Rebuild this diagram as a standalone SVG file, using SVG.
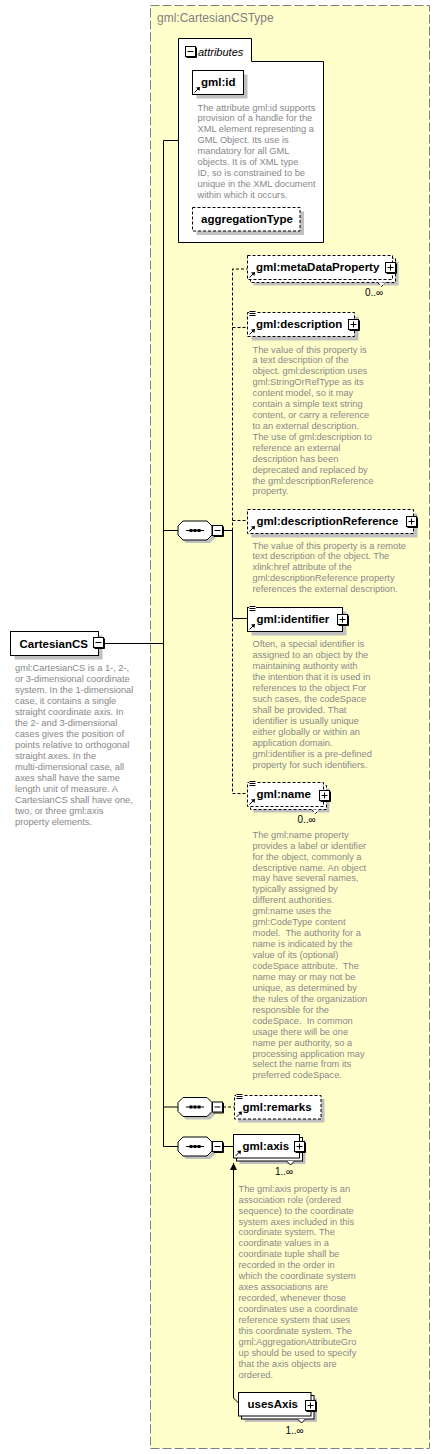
<svg xmlns="http://www.w3.org/2000/svg" xmlns:xlink="http://www.w3.org/1999/xlink" width="440" height="1454" viewBox="0 0 440 1454">
<style>
.box{fill:#fff;stroke:#000;stroke-width:1}
.dbox{fill:#fff;stroke:#000;stroke-width:1;stroke-dasharray:3,2}
.sh{fill:#c0c0c0}
.lbl{font-family:"Liberation Sans",Arial,sans-serif;font-weight:bold;font-size:11.5px;fill:#000}
.doc{font-family:"Liberation Sans",Arial,sans-serif;font-size:9.3px;fill:#888}
.occ{font-family:"Liberation Sans",Arial,sans-serif;font-size:10px;fill:#000}
.conn{stroke:#000;fill:none;stroke-width:1}
.dconn{stroke:#000;fill:none;stroke-width:1;stroke-dasharray:3,2}
</style>
<defs>
<g id="plus"><rect x="0" y="0" width="10" height="10" fill="#fff" stroke="#000"/><path d="M11,1V11H1" stroke="#000" fill="none"/><path d="M2,5H8M5,2V8" stroke="#000" fill="none"/></g>
<g id="minus"><rect x="0" y="0" width="10" height="10" fill="#fff" stroke="#000"/><path d="M11,1V11H1" stroke="#000" fill="none"/><path d="M2,5H8" stroke="#000" fill="none"/></g>
<g id="ref"><path d="M0,0L4,-4" stroke="#000" fill="none"/><path d="M5.5,-5.5L1.5,-5L5,-1.5Z" fill="#000"/></g>
<g id="simple"><rect x="-0.5" y="-1" width="7" height="6" fill="#fff"/><path d="M0,-0.5H6M0,1.5H6M0,3.5H6" stroke="#000" fill="none"/></g>
<g id="seq">
<polygon points="8,-6.5 32,-6.5 37,-1.5 37,7.5 32,12.5 8,12.5 3,7.5 3,-1.5" class="sh"/>
<polygon points="5,-9.5 29,-9.5 34,-4.5 34,4.5 29,9.5 5,9.5 0,4.5 0,-4.5" fill="#fff" stroke="#000"/>
<path d="M8,0H26" stroke="#000"/>
<rect x="11.5" y="-1.5" width="3" height="3" fill="#000"/><rect x="15.5" y="-1.5" width="3" height="3" fill="#000"/><rect x="19.5" y="-1.5" width="3" height="3" fill="#000"/>
<use xlink:href="#minus" x="34.5" y="-5"/>
</g>
<marker id="arr" markerWidth="8" markerHeight="8" refX="7" refY="4" orient="auto" markerUnits="userSpaceOnUse"><path d="M0,0.5L7,4L0,7.5Z" fill="#000"/></marker>
</defs>

<g id="type-box">
<rect x="150.5" y="5.5" width="279" height="1443" fill="#ffffcc" stroke="#808080" stroke-dasharray="9,3"/>
<text x="157" y="22" font-family="Liberation Sans, Arial, sans-serif" font-size="12" fill="#808080">gml:CartesianCSType</text>
</g>

<g id="connectors">
<path class="conn" d="M163.5,140.5V1146.5M163.5,140.5H178.5M104,643.5H163.5M163.5,530.5H178M163.5,1107H178M163.5,1146.5H178"/>
<path class="conn" d="M223,530.5H232.5M232.5,530.5V618.5H247.5"/>
<path class="dconn" d="M232.5,530.5V269H247.5M232.5,327.5H247.5M232.5,520.5H247.5M232.5,618.5V793.5H247.5"/>
<path class="dconn" d="M223,1107H234.5"/>
<path class="conn" d="M223,1146.5H233.5"/>
<path class="conn" d="M238.5,1403L233.5,1398V1163" marker-end="url(#arr)"/>
</g>

<g id="attributes">
<path d="M178.5,38.5H251.5V61.5H323.5V242.5H178.5Z" class="box"/>
<use xlink:href="#minus" x="185.5" y="46.5"/>
<text x="198" y="55.5" font-family="Liberation Sans, Arial, sans-serif" font-size="11" font-style="italic">attributes</text>
</g>

<g id="gml-id">
<rect x="196.5" y="74.5" width="51" height="24" class="sh"/>
<rect x="192.5" y="70.5" width="51" height="24" class="box"/>
<use xlink:href="#ref" x="194.5" y="92.5"/>
<text x="201" y="86" class="lbl">gml:id</text>
<text class="doc" x="197.5" y="110.5"><tspan x="197.5">The attribute gml:id supports</tspan><tspan x="197.5" dy="10.95">provision of a handle for the</tspan><tspan x="197.5" dy="10.95">XML element representing a</tspan><tspan x="197.5" dy="10.95">GML Object. Its use is</tspan><tspan x="197.5" dy="10.95">mandatory for all GML</tspan><tspan x="197.5" dy="10.95">objects. It is of XML type</tspan><tspan x="197.5" dy="10.95">ID, so is constrained to be</tspan><tspan x="197.5" dy="10.95">unique in the XML document</tspan><tspan x="197.5" dy="10.95">within which it occurs.</tspan></text>
</g>

<g id="aggregationType">
<rect x="196.5" y="211.5" width="107.5" height="23.5" class="sh"/>
<rect x="192.5" y="207.5" width="107.5" height="23.5" class="dbox"/>
<text x="201" y="223" class="lbl">aggregationType</text>
</g>

<g id="CartesianCS">
<rect x="14.5" y="635.5" width="88" height="24" class="sh"/>
<rect x="10.5" y="631.5" width="88" height="24" class="box"/>
<text x="19.5" y="647.5" class="lbl">CartesianCS</text>
<use xlink:href="#minus" x="93.5" y="637.5"/>
<text class="doc" x="15" y="671"><tspan x="15">gml:CartesianCS is a 1-, 2-,</tspan><tspan x="15" dy="11">or 3-dimensional coordinate</tspan><tspan x="15" dy="11">system. In the 1-dimensional</tspan><tspan x="15" dy="11">case, it contains a single</tspan><tspan x="15" dy="11">straight coordinate axis. In</tspan><tspan x="15" dy="11">the 2- and 3-dimensional</tspan><tspan x="15" dy="11">cases gives the position of</tspan><tspan x="15" dy="11">points relative to orthogonal</tspan><tspan x="15" dy="11">straight axes. In the</tspan><tspan x="15" dy="11">multi-dimensional case, all</tspan><tspan x="15" dy="11">axes shall have the same</tspan><tspan x="15" dy="11">length unit of measure. A</tspan><tspan x="15" dy="11">CartesianCS shall have one,</tspan><tspan x="15" dy="11">two, or three gml:axis</tspan><tspan x="15" dy="11">property elements.</tspan></text>
</g>

<g id="sequence-main"><use xlink:href="#seq" x="178" y="530.5"/></g>
<g id="sequence-remarks"><use xlink:href="#seq" x="178" y="1107"/></g>
<g id="sequence-axis"><use xlink:href="#seq" x="178" y="1146.5"/></g>

<g id="metaDataProperty">
<rect x="253.5" y="261.5" width="145" height="24" class="sh"/>
<rect x="250.5" y="258.5" width="145" height="24" class="dbox"/>
<polyline points="377.5,282.5 381.5,286.5 385.5,282.5" class="dbox"/>
<rect x="247.5" y="255.5" width="145" height="24" class="dbox"/>
<use xlink:href="#ref" x="249.5" y="277.5"/>
<text x="256" y="271" class="lbl">gml:metaDataProperty</text>
<use xlink:href="#plus" x="385.5" y="262.5"/>
<text x="365" y="296" class="occ">0..∞</text>
</g>

<g id="description">
<rect x="251.5" y="316.5" width="107" height="24" class="sh"/>
<rect x="247.5" y="312.5" width="107" height="24" class="dbox"/>
<use xlink:href="#simple" x="249.5" y="312"/>
<use xlink:href="#ref" x="249.5" y="334.5"/>
<text x="256" y="328" class="lbl">gml:description</text>
<use xlink:href="#plus" x="348.5" y="319.5"/>
<text class="doc" x="252.5" y="352.5"><tspan x="252.5">The value of this property is</tspan><tspan x="252.5" dy="10.92">a text description of the</tspan><tspan x="252.5" dy="10.92">object. gml:description uses</tspan><tspan x="252.5" dy="10.92">gml:StringOrRefType as its</tspan><tspan x="252.5" dy="10.92">content model, so it may</tspan><tspan x="252.5" dy="10.92">contain a simple text string</tspan><tspan x="252.5" dy="10.92">content, or carry a reference</tspan><tspan x="252.5" dy="10.92">to an external description.</tspan><tspan x="252.5" dy="10.92">The use of gml:description to</tspan><tspan x="252.5" dy="10.92">reference an external</tspan><tspan x="252.5" dy="10.92">description has been</tspan><tspan x="252.5" dy="10.92">deprecated and replaced by</tspan><tspan x="252.5" dy="10.92">the gml:descriptionReference</tspan><tspan x="252.5" dy="10.92">property.</tspan></text>
</g>

<g id="descriptionReference">
<rect x="251.5" y="513.5" width="166" height="24" class="sh"/>
<rect x="247.5" y="509.5" width="166" height="24" class="dbox"/>
<use xlink:href="#ref" x="249.5" y="531.5"/>
<text x="256.5" y="525" class="lbl">gml:descriptionReference</text>
<use xlink:href="#plus" x="406.5" y="516.5"/>
<text class="doc" x="252.5" y="548.5"><tspan x="252.5">The value of this property is a remote</tspan><tspan x="252.5" dy="10.85">text description of the object. The</tspan><tspan x="252.5" dy="10.85">xlink:href attribute of the</tspan><tspan x="252.5" dy="10.85">gml:descriptionReference property</tspan><tspan x="252.5" dy="10.85">references the external description.</tspan></text>
</g>

<g id="identifier">
<rect x="251.5" y="611.5" width="95" height="24" class="sh"/>
<rect x="247.5" y="607.5" width="95" height="24" class="box"/>
<use xlink:href="#simple" x="249.5" y="607"/>
<use xlink:href="#ref" x="249.5" y="629.5"/>
<text x="256.5" y="623" class="lbl">gml:identifier</text>
<use xlink:href="#plus" x="337.5" y="614.5"/>
<text class="doc" x="252.5" y="646.7"><tspan x="252.5">Often, a special identifier is</tspan><tspan x="252.5" dy="11">assigned to an object by the</tspan><tspan x="252.5" dy="11">maintaining authority with</tspan><tspan x="252.5" dy="11">the intention that it is used in</tspan><tspan x="252.5" dy="11">references to the object For</tspan><tspan x="252.5" dy="11">such cases, the codeSpace</tspan><tspan x="252.5" dy="11">shall be provided. That</tspan><tspan x="252.5" dy="11">identifier is usually unique</tspan><tspan x="252.5" dy="11">either globally or within an</tspan><tspan x="252.5" dy="11">application domain.</tspan><tspan x="252.5" dy="11">gml:identifier is a pre-defined</tspan><tspan x="252.5" dy="11">property for such identifiers.</tspan></text>
</g>

<g id="name">
<rect x="253.5" y="788.5" width="76" height="24" class="sh"/>
<rect x="250.5" y="785.5" width="76" height="24" class="dbox"/>
<polyline points="311.5,809.5 315.5,813.5 319.5,809.5" class="dbox"/>
<rect x="247.5" y="782.5" width="76" height="24" class="dbox"/>
<use xlink:href="#simple" x="249.5" y="782"/>
<use xlink:href="#ref" x="249.5" y="804.5"/>
<text x="256.5" y="798" class="lbl">gml:name</text>
<use xlink:href="#plus" x="319.5" y="790.5"/>
<text x="297.5" y="822.5" class="occ">0..∞</text>
<text class="doc" x="252.5" y="837.7"><tspan x="252.5">The gml:name property</tspan><tspan x="252.5" dy="10.94">provides a label or identifier</tspan><tspan x="252.5" dy="10.94">for the object, commonly a</tspan><tspan x="252.5" dy="10.94">descriptive name. An object</tspan><tspan x="252.5" dy="10.94">may have several names,</tspan><tspan x="252.5" dy="10.94">typically assigned by</tspan><tspan x="252.5" dy="10.94">different authorities.</tspan><tspan x="252.5" dy="10.94">gml:name uses the</tspan><tspan x="252.5" dy="10.94">gml:CodeType content</tspan><tspan x="252.5" dy="10.94" xml:space="preserve">model.  The authority for a</tspan><tspan x="252.5" dy="10.94">name is indicated by the</tspan><tspan x="252.5" dy="10.94">value of its (optional)</tspan><tspan x="252.5" dy="10.94" xml:space="preserve">codeSpace attribute.  The</tspan><tspan x="252.5" dy="10.94">name may or may not be</tspan><tspan x="252.5" dy="10.94">unique, as determined by</tspan><tspan x="252.5" dy="10.94">the rules of the organization</tspan><tspan x="252.5" dy="10.94">responsible for the</tspan><tspan x="252.5" dy="10.94" xml:space="preserve">codeSpace.  In common</tspan><tspan x="252.5" dy="10.94">usage there will be one</tspan><tspan x="252.5" dy="10.94">name per authority, so a</tspan><tspan x="252.5" dy="10.94">processing application may</tspan><tspan x="252.5" dy="10.94">select the name from its</tspan><tspan x="252.5" dy="10.94">preferred codeSpace.</tspan></text>
</g>

<g id="remarks">
<rect x="238" y="1099" width="86.5" height="23.5" class="sh"/>
<rect x="234.5" y="1095.5" width="86.5" height="23.5" class="dbox"/>
<use xlink:href="#simple" x="236.5" y="1095"/>
<use xlink:href="#ref" x="236.5" y="1117"/>
<text x="242.5" y="1111" class="lbl">gml:remarks</text>
</g>

<g id="axis">
<rect x="239.5" y="1140.5" width="66" height="23.5" class="sh"/>
<rect x="236.5" y="1137.5" width="66" height="23.5" class="box"/>
<polyline points="286.5,1161 290.5,1165 294.5,1161" class="box"/>
<rect x="233.5" y="1134.5" width="66" height="23.5" class="box"/>
<use xlink:href="#ref" x="235.5" y="1156"/>
<text x="242.5" y="1150" class="lbl">gml:axis</text>
<use xlink:href="#plus" x="294.5" y="1141.5"/>
<text x="275" y="1175" class="occ">1..∞</text>
<text class="doc" x="238.5" y="1191.7"><tspan x="238.5">The gml:axis property is an</tspan><tspan x="238.5" dy="10.94">association role (ordered</tspan><tspan x="238.5" dy="10.94">sequence) to the coordinate</tspan><tspan x="238.5" dy="10.94">system axes included in this</tspan><tspan x="238.5" dy="10.94">coordinate system. The</tspan><tspan x="238.5" dy="10.94">coordinate values in a</tspan><tspan x="238.5" dy="10.94">coordinate tuple shall be</tspan><tspan x="238.5" dy="10.94">recorded in the order in</tspan><tspan x="238.5" dy="10.94">which the coordinate system</tspan><tspan x="238.5" dy="10.94">axes associations are</tspan><tspan x="238.5" dy="10.94">recorded, whenever those</tspan><tspan x="238.5" dy="10.94">coordinates use a coordinate</tspan><tspan x="238.5" dy="10.94">reference system that uses</tspan><tspan x="238.5" dy="10.94">this coordinate system. The</tspan><tspan x="238.5" dy="10.94">gml:AggregationAttributeGro</tspan><tspan x="238.5" dy="10.94">up should be used to specify</tspan><tspan x="238.5" dy="10.94">that the axis objects are</tspan><tspan x="238.5" dy="10.94">ordered.</tspan></text>
</g>

<g id="usesAxis">
<rect x="244.5" y="1398.5" width="72.5" height="23.5" class="sh"/>
<rect x="241.5" y="1395.5" width="72.5" height="23.5" class="box"/>
<polyline points="297.5,1419 301.5,1423 305.5,1419" class="box"/>
<rect x="238.5" y="1392.5" width="72.5" height="23.5" class="box"/>
<text x="247.5" y="1408" class="lbl">usesAxis</text>
<use xlink:href="#plus" x="305.5" y="1400.5"/>
<text x="285.5" y="1433.5" class="occ">1..∞</text>
</g>
</svg>
